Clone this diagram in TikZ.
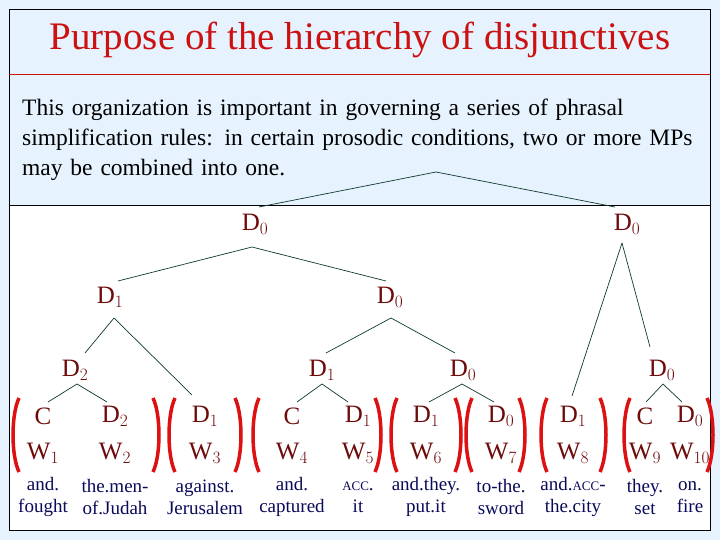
\documentclass[tikz,border=0pt]{standalone}
\usepackage{fontspec}
\setmainfont{Liberation Serif}
\definecolor{bgb}{HTML}{E6F2FE}
\definecolor{lab}{HTML}{6E0A0A}
\definecolor{wrd}{HTML}{0A0A5A}
\definecolor{ttl}{HTML}{CC1111}
\definecolor{brk}{HTML}{DD1111}
\definecolor{edge}{HTML}{103A2A}
\tikzset{
 lbl/.style={text=lab,font=\fontsize{25}{27}\selectfont,inner sep=1pt},
 wd/.style={text=wrd,font=\fontsize{19}{22}\selectfont,align=center,inner sep=0pt},
 br/.style={brk,line width=3.5pt},
 ed/.style={edge,line width=0.7pt},
}
\newcommand{\lb}[3]{\node[lbl] (#1) at (#2) {#3};}
\newcommand{\sacc}{{\fontsize{13}{14}\selectfont ACC}}
\newcommand{\lp}[1]{\draw[br] (#1+5,398) .. controls (#1-3,415) and (#1-3,455) .. (#1+5,472);}
\newcommand{\rp}[1]{\draw[br] (#1-5,398) .. controls (#1+3,415) and (#1+3,455) .. (#1-5,472);}
\begin{document}
\begin{tikzpicture}[x=1pt,y=-1pt]
\fill[bgb] (0,0) rectangle (720,540);
\fill[white] (9,205) rectangle (710,530);
\draw[black,line width=0.8pt] (9,9) rectangle (710,530);
\draw[ttl,line width=0.8pt] (9,74) -- (710,74);
\draw[black,line width=0.8pt] (9,205) -- (710,205);
\node[text=ttl,font=\fontsize{39}{42}\selectfont] (title) at (360,40) {Purpose of the hierarchy of disjunctives};
\node[anchor=north west,align=left,font=\fontsize{23.5}{30}\selectfont,inner sep=0pt,text width=680pt] (para) at (22,99)
 {This organization is important in governing a series of phrasal\\ simplification rules: in certain prosodic conditions, two or more MPs\\ may be combined into one.};
% tree labels
\lb{a}{255,224}{D$_0$}
\lb{b}{627,224}{D$_0$}
\lb{c}{110,297}{D$_1$}
\lb{d}{390,297}{D$_0$}
\lb{e}{75,370}{D$_2$}
\lb{f}{322,370}{D$_1$}
\lb{g}{463,370}{D$_0$}
\lb{h}{662,370}{D$_0$}
% leaves
\foreach \n/\x/\t/\w/\ta/\tb in {
 1/43/C/1/and./fought,
 2/115/D$_2$/2/the.men-/of.Judah,
 3/205/D$_1$/3/against./Jerusalem,
 4/292/C/4/and./captured,
 5/358/D$_1$/5/\sacc./it,
 6/426/D$_1$/6/and.they./put.it,
 7/501/D$_0$/7/to-the./sword,
 8/573/D$_1$/8/and.\sacc-/the.city,
 9/645/C/9/they./set,
 10/690/D$_0$/10/on./fire}{
 \node[lbl] (l\n) at (\x,416) {\t};
 \node[lbl] (w\n) at (\x,453) {W$_{\w}$};
 \node[wd] (t\n) at (\x,497) {\ta\\\tb};
}
% edges
\coordinate (r) at (436,172);
\draw[ed] (r) -- (259,207); \draw[ed] (r) -- (615,207);
\coordinate (ap) at (252,247);
\draw[ed] (ap) -- (118,281); \draw[ed] (ap) -- (386,281);
\coordinate (cp) at (114,318);
\draw[ed] (cp) -- (85,353); \draw[ed] (cp) -- (192,395);
\coordinate (dp) at (391,318);
\draw[ed] (dp) -- (326,353); \draw[ed] (dp) -- (455,353);
\coordinate (bp) at (622,243);
\draw[ed] (bp) -- (572,396); \draw[ed] (bp) -- (650,347);
\foreach \ax/\lx/\rx in {77/48/107, 322/297/348, 462/429/494, 663/646/682}{
 \draw[ed] (\lx,402) -- (\ax,384) -- (\rx,402);
}
% brackets
\lp{14} \rp{158}
\lp{170} \rp{240}
\lp{254} \rp{380}
\lp{392} \rp{460}
\lp{467} \rp{524}
\lp{542} \rp{605}
\lp{625} \rp{712}
\end{tikzpicture}
\end{document}
